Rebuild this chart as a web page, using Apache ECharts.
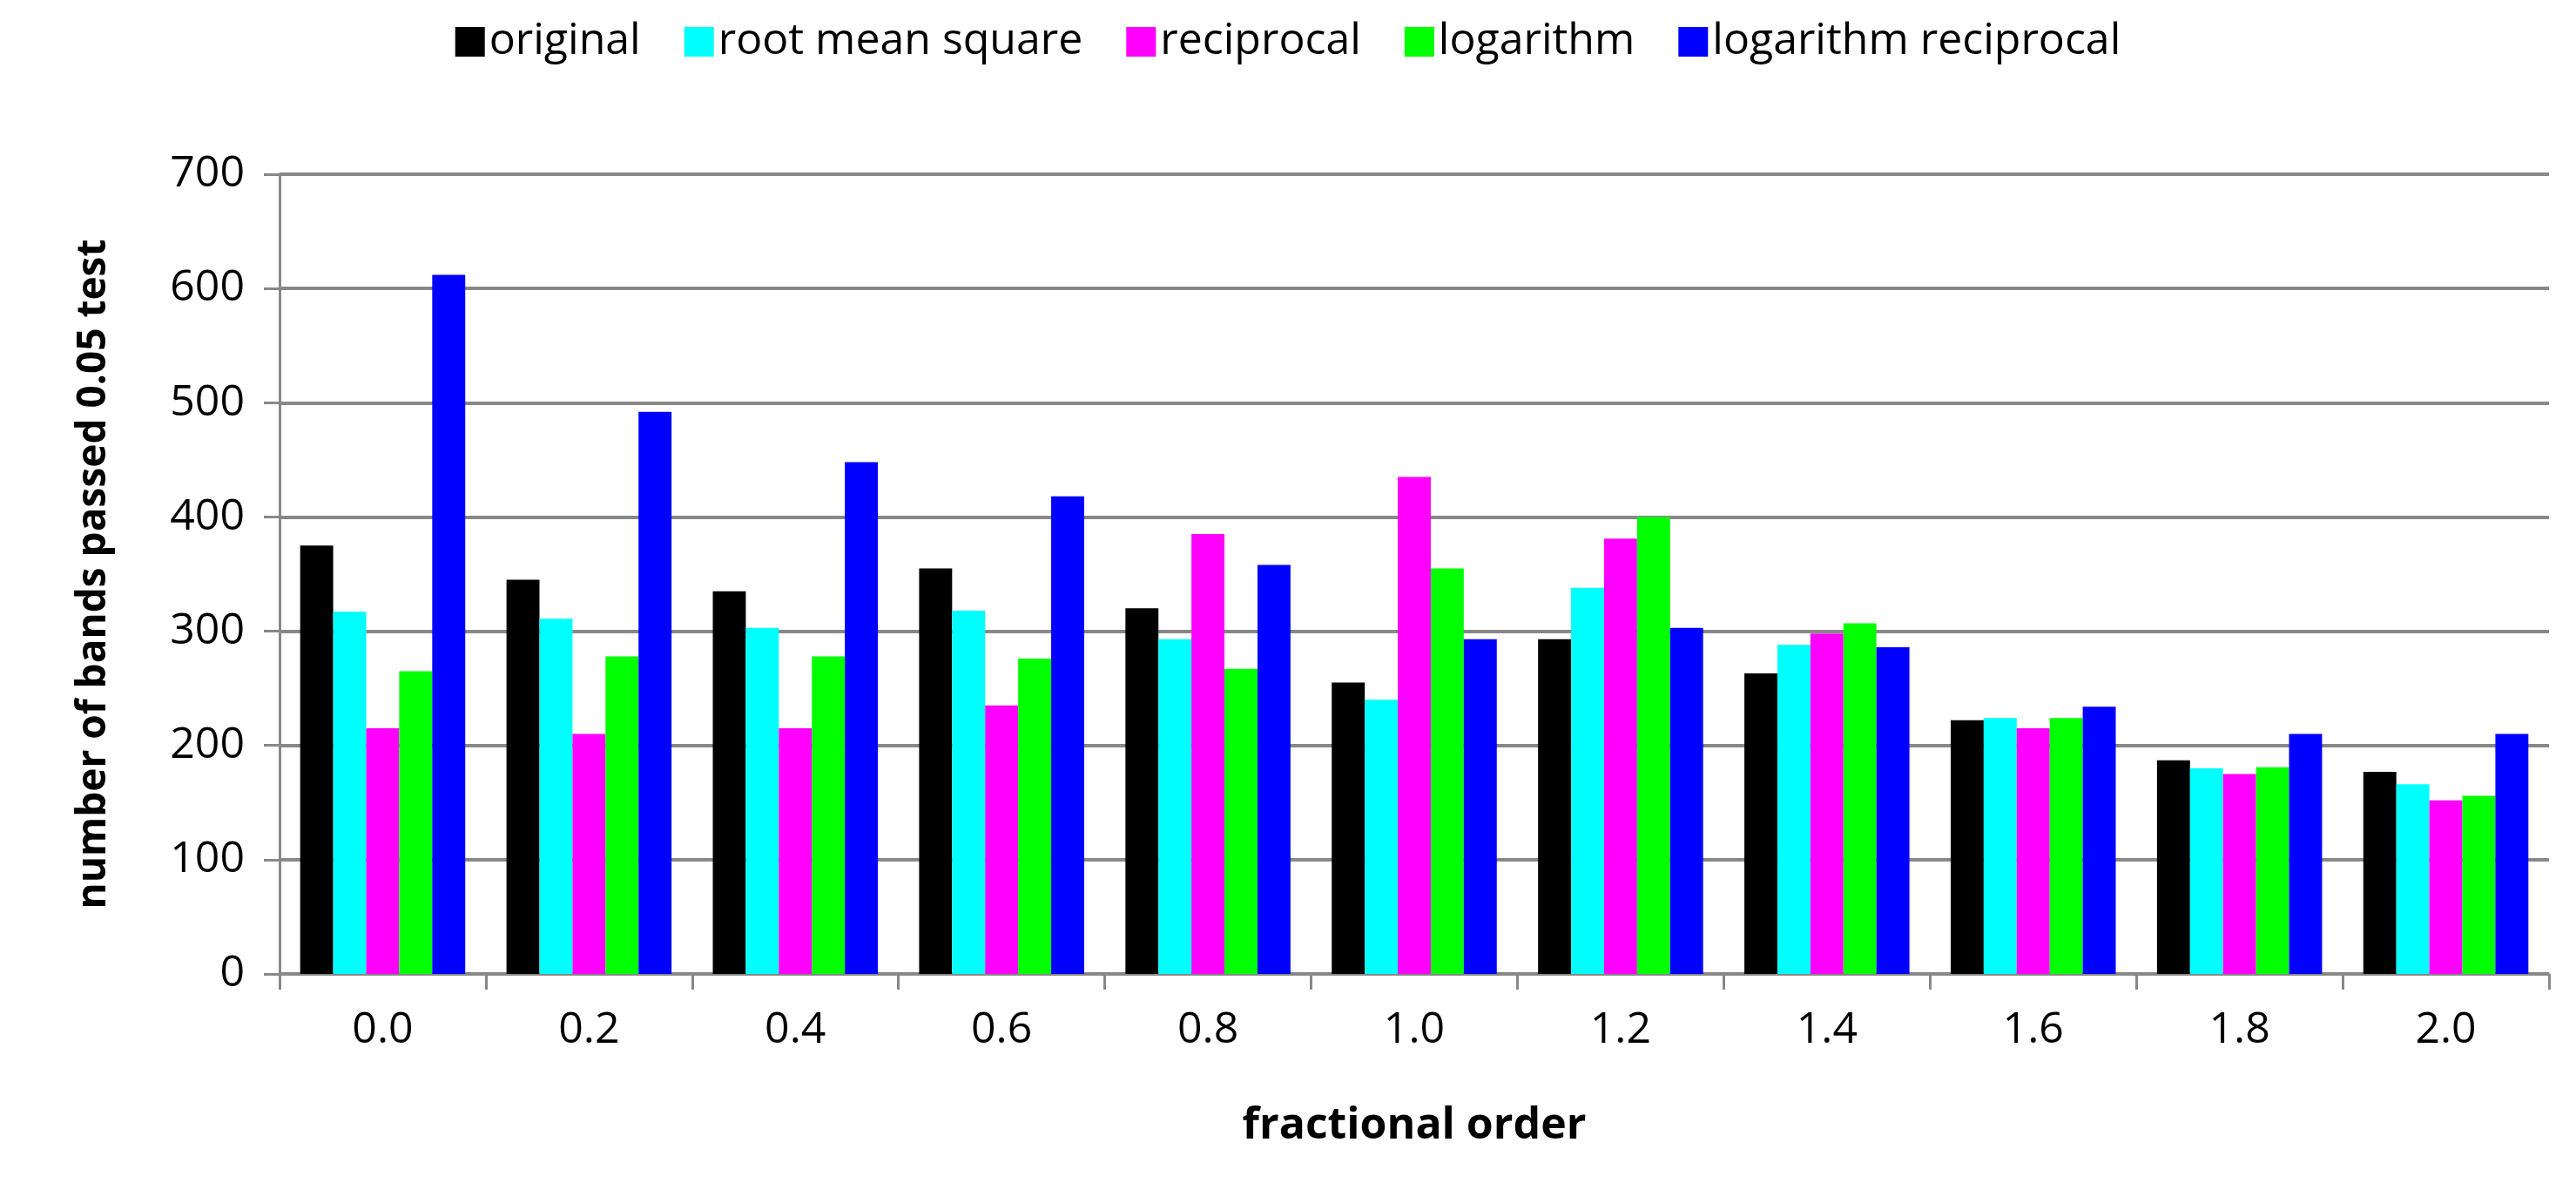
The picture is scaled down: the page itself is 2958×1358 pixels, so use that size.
<!DOCTYPE html>
<html>
<head>
<meta charset="utf-8">
<script src="https://cdn.jsdelivr.net/npm/echarts@6/dist/echarts.min.js"></script>
<style>html,body{margin:0;padding:0;background:#fff}#chart{width:2958px;height:1358px}</style>
</head>
<body>
<div id="chart"></div>
<script>
var categories = ['0.0','0.2','0.4','0.6','0.8','1.0','1.2','1.4','1.6','1.8','2.0'];
var original = [375,345,335,355,320,255,293,263,222,187,177];
var rootMeanSquare = [317,311,303,318,293,240,338,288,224,180,166];
var reciprocal = [215,210,215,235,385,435,381,298,215,175,152];
var logarithm = [265,278,278,276,267,355,400,307,224,181,156];
var logReciprocal = [612,492,448,418,358,293,303,286,234,210,210];

var names = ['original','root mean square','reciprocal','logarithm','logarithm reciprocal'];
var colors = ['#000000','#00ffff','#ff00ff','#00ff00','#0000ff'];
var values = [original, rootMeanSquare, reciprocal, logarithm, logReciprocal];

var series = [];
for (var i = 0; i < names.length; i++) {
    series.push({
        name: names[i],
        type: 'bar',
        data: values[i],
        barGap: '0%',
        barCategoryGap: '20%',
        itemStyle: {color: colors[i]}
    });
}

var option = {
    animation: false,
    textStyle: {fontFamily: 'Open Sans'},
    legend: {
        top: 18,
        left: 'center',
        itemWidth: 34,
        itemHeight: 34,
        itemGap: 50,
        icon: 'rect',
        textStyle: {fontSize: 50, color: '#000', fontFamily: 'Open Sans'},
        data: names
    },
    grid: {left: 321, right: 31, top: 200, bottom: 240},
    xAxis: {
        type: 'category',
        data: categories,
        name: 'fractional order',
        nameLocation: 'middle',
        nameGap: 150,
        nameTextStyle: {fontSize: 50, fontWeight: 'bold', color: '#000'},
        axisLine: {lineStyle: {color: '#888', width: 3}},
        axisTick: {show: true, length: 18, lineStyle: {color: '#888', width: 3}},
        axisLabel: {fontSize: 50, color: '#000', margin: 40}
    },
    yAxis: {
        type: 'value',
        min: 0, max: 700, interval: 100,
        name: 'number of bands passed 0.05 test',
        nameLocation: 'middle',
        nameGap: 190,
        nameTextStyle: {fontSize: 46, fontWeight: 'bold', color: '#000'},
        axisLine: {show: true, lineStyle: {color: '#888', width: 3}},
        axisTick: {show: true, length: 18, lineStyle: {color: '#888', width: 3}},
        axisLabel: {fontSize: 50, color: '#000', margin: 40},
        splitLine: {lineStyle: {color: '#888', width: 4}}
    },
    series: series
};

var chart = echarts.init(document.getElementById('chart'));
chart.setOption(option);
</script>
</body>
</html>
